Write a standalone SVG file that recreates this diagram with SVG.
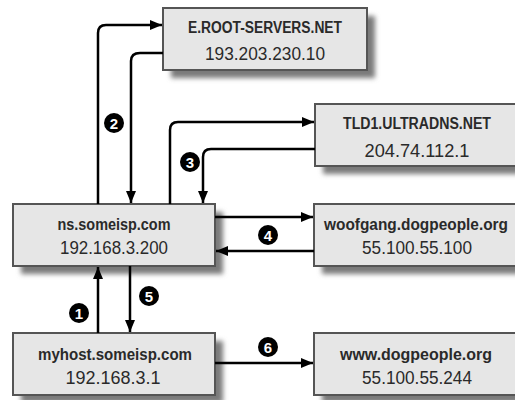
<svg xmlns="http://www.w3.org/2000/svg" width="515" height="400" viewBox="0 0 515 400">
<defs>
<filter id="blur" x="-20%" y="-30%" width="140%" height="160%"><feGaussianBlur stdDeviation="2.5"/></filter>
<marker id="ah" viewBox="0 0 12 10" refX="12" refY="5" markerWidth="12" markerHeight="10" markerUnits="userSpaceOnUse" orient="auto"><path d="M0,0 L12,5 L0,10 Z" fill="#000"/></marker>
</defs>
<style>
.sh{fill:#7a7a7a;filter:url(#blur)}
.bx{fill:#e6e6e6;stroke:#555;stroke-width:2}
.t1{font-family:"Liberation Sans",Arial,sans-serif;font-weight:bold;font-size:16px;fill:#2a2a2a;text-anchor:middle}
.t2{font-family:"Liberation Sans",Arial,sans-serif;font-size:18px;fill:#2a2a2a;text-anchor:middle}
.c{fill:none;stroke:#000;stroke-width:2.5;marker-end:url(#ah)}
.nc{fill:#000}
.nt{font-family:"Liberation Sans",Arial,sans-serif;font-weight:bold;font-size:15px;fill:#fff;text-anchor:middle}
</style>
<rect width="515" height="400" fill="#fff"/>
<g id="eroot">
<rect class="sh" x="171" y="16" width="204" height="62"/>
<rect class="bx" x="163" y="8" width="204" height="62"/>
<text class="t1" x="265" y="33" textLength="154" lengthAdjust="spacingAndGlyphs">E.ROOT-SERVERS.NET</text>
<text class="t2" x="265" y="60" textLength="120" lengthAdjust="spacingAndGlyphs">193.203.230.10</text>
</g>
<g id="tld">
<rect class="sh" x="323" y="112" width="204" height="62"/>
<rect class="bx" x="315" y="104" width="204" height="62"/>
<text class="t1" x="417" y="129" textLength="148" lengthAdjust="spacingAndGlyphs">TLD1.ULTRADNS.NET</text>
<text class="t2" x="417" y="157" textLength="105" lengthAdjust="spacingAndGlyphs">204.74.112.1</text>
</g>
<g id="ns">
<rect class="sh" x="21" y="212" width="202" height="62"/>
<rect class="bx" x="13" y="204" width="202" height="62"/>
<text class="t1" x="114" y="230" textLength="113" lengthAdjust="spacingAndGlyphs">ns.someisp.com</text>
<text class="t2" x="114" y="254" textLength="108" lengthAdjust="spacingAndGlyphs">192.168.3.200</text>
</g>
<g id="woofgang">
<rect class="sh" x="322" y="212" width="204" height="62"/>
<rect class="bx" x="314" y="204" width="204" height="62"/>
<text class="t1" x="416" y="230" textLength="184" lengthAdjust="spacingAndGlyphs">woofgang.dogpeople.org</text>
<text class="t2" x="417" y="254" textLength="110" lengthAdjust="spacingAndGlyphs">55.100.55.100</text>
</g>
<g id="myhost">
<rect class="sh" x="21" y="341" width="202" height="62"/>
<rect class="bx" x="13" y="333" width="202" height="62"/>
<text class="t1" x="115" y="360" textLength="154" lengthAdjust="spacingAndGlyphs">myhost.someisp.com</text>
<text class="t2" x="113" y="384" textLength="95" lengthAdjust="spacingAndGlyphs">192.168.3.1</text>
</g>
<g id="www">
<rect class="sh" x="322" y="341" width="204" height="62"/>
<rect class="bx" x="314" y="333" width="204" height="62"/>
<text class="t1" x="416" y="360" textLength="152" lengthAdjust="spacingAndGlyphs">www.dogpeople.org</text>
<text class="t2" x="417" y="384" textLength="110" lengthAdjust="spacingAndGlyphs">55.100.55.244</text>
</g>
<g id="connectors">
<path class="c" d="M98,204 V33 Q98,25 106,25 H162"/>
<path class="c" d="M163,53 H140 Q131,53 131,61 V203"/>
<path class="c" d="M170,204 V130 Q170,122 178,122 H314"/>
<path class="c" d="M315,149 H211 Q203,149 203,157 V203"/>
<path class="c" d="M215,217 H313"/>
<path class="c" d="M314,251 H216"/>
<path class="c" d="M98,333 V267"/>
<path class="c" d="M130,266 V332"/>
<path class="c" d="M215,363 H313"/>
</g>
<g id="labels">
<circle class="nc" cx="79" cy="313" r="10"/><text class="nt" x="79" y="318.5">1</text>
<circle class="nc" cx="114" cy="123" r="10"/><text class="nt" x="114" y="128.5">2</text>
<circle class="nc" cx="190" cy="162" r="10"/><text class="nt" x="190" y="167.5">3</text>
<circle class="nc" cx="268" cy="235" r="10"/><text class="nt" x="268" y="240.5">4</text>
<circle class="nc" cx="149" cy="296" r="10"/><text class="nt" x="149" y="301.5">5</text>
<circle class="nc" cx="268" cy="347" r="10"/><text class="nt" x="268" y="352.5">6</text>
</g>
</svg>
